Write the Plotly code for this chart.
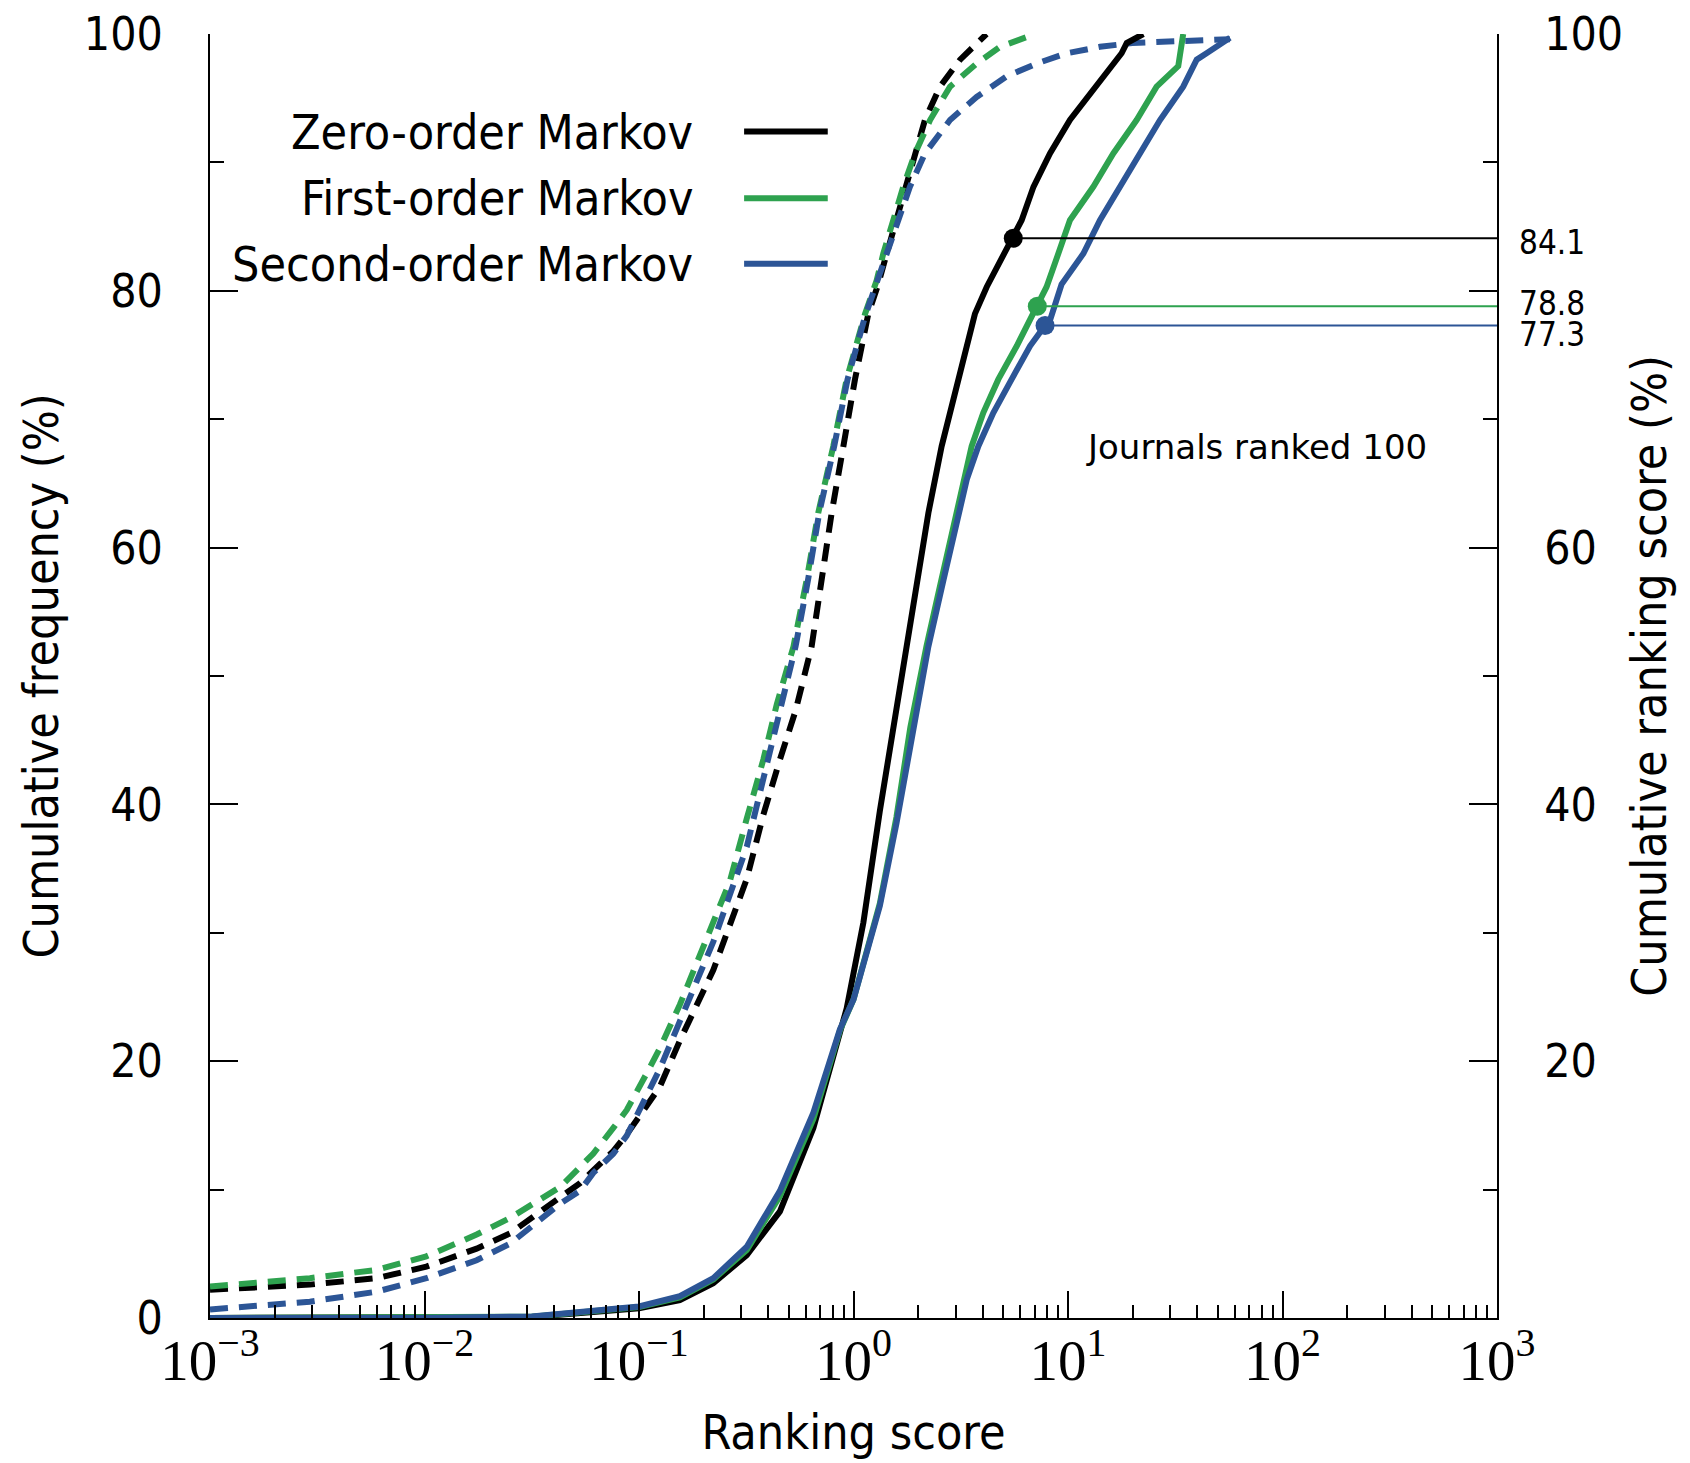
import plotly.graph_objects as go

# ---------------- data ----------------
# Cumulative frequency (%) vs ranking score  (dashed)
freq0_x = [0.001, 0.00292, 0.00598, 0.0102, 0.0175, 0.0251, 0.0429, 0.0531, 0.0612, 0.0759,
           0.0877, 0.109, 0.125, 0.155, 0.222, 0.318, 0.380, 0.454, 0.537, 0.638, 0.711,
           0.791, 0.897, 1.016, 1.172, 1.303, 1.429, 1.589, 1.738, 1.936, 2.153, 2.529,
           3.141, 4.169]
freq0_y = [2.2, 2.6, 3.1, 4.0, 5.4, 6.6, 9.4, 10.5, 11.5, 13.0,
           14.3, 16.6, 18.0, 21.6, 27.1, 34.2, 39.2, 43.5, 47.3, 52.3, 57.5,
           62.7, 67.9, 73.1, 78.2, 80.5, 82.9, 85.5, 88.1, 90.7, 93.3, 95.9,
           98.0, 100.0]

freq1_x = [0.001, 0.00292, 0.00598, 0.0102, 0.0175, 0.0251, 0.0429, 0.0531, 0.0612, 0.0759,
           0.0877, 0.109, 0.125, 0.155, 0.222, 0.265, 0.318, 0.380, 0.439, 0.525, 0.605,
           0.685, 0.805, 0.929, 1.132, 1.282, 1.377, 1.706, 1.936, 2.275, 2.818, 3.750,
           4.819, 7.015]
freq1_y = [2.45, 3.1, 3.75, 4.8, 6.5, 7.8, 10.2, 11.7, 12.8, 14.8,
           16.2, 19.1, 21.0, 24.4, 30.8, 34.0, 38.9, 43.5, 47.8, 52.3, 57.5,
           62.7, 67.9, 73.1, 78.2, 80.8, 82.9, 88.1, 90.7, 93.3, 95.9, 97.7,
           99.0, 100.0]

freq2_x = [0.001, 0.00292, 0.00598, 0.0102, 0.0175, 0.0251, 0.0429, 0.0531, 0.0612, 0.0759,
           0.0877, 0.109, 0.125, 0.155, 0.222, 0.318, 0.454, 0.537, 0.614, 0.692, 0.813,
           0.938, 1.132, 1.282, 1.429, 1.832, 2.153, 2.818, 3.750, 5.176, 7.145, 9.863,
           14.09, 19.95, 34.44, 56.89]
freq2_y = [0.67, 1.27, 2.05, 3.1, 4.5, 5.8, 8.9, 9.9, 11.3, 12.8,
           14.2, 17.3, 19.4, 23.1, 29.3, 36.7, 47.2, 52.3, 57.5, 62.7, 67.9,
           73.1, 78.0, 80.5, 82.9, 88.1, 90.7, 93.3, 95.1, 96.7, 97.7, 98.5,
           99.0, 99.3, 99.4, 99.6]

# Cumulative ranking score (%) vs ranking score  (solid)
rank0_x = [0.001, 0.01, 0.0316, 0.1, 0.155, 0.222, 0.318, 0.454, 0.650, 0.929, 1.112,
           1.327, 1.549, 1.770, 2.004, 2.234, 2.576, 3.083, 3.681, 4.178, 5.559, 6.081,
           6.902, 8.241, 10.21, 13.61, 17.78, 18.79, 22.44]
rank0_y = [0.0, 0.0, 0.08, 0.75, 1.4, 2.7, 4.9, 8.3, 14.8, 24.1, 30.8,
           39.5, 46.2, 52.3, 57.5, 62.7, 67.9, 73.1, 78.2, 80.3, 84.1, 85.5,
           88.1, 90.7, 93.3, 95.9, 98.5, 99.3, 100.0]

rank1_x = [0.001, 0.01, 0.0316, 0.1, 0.155, 0.222, 0.318, 0.454, 0.650, 0.865, 1.0,
           1.327, 1.585, 1.841, 2.188, 2.570, 3.006, 3.251, 3.556, 4.027, 4.732, 5.768,
           7.194, 7.943, 9.016, 10.21, 13.12, 16.26, 20.89, 25.88, 32.66, 34.44]
rank1_y = [0.0, 0.0, 0.1, 0.85, 1.6, 3.0, 5.3, 9.5, 15.5, 22.4, 24.8,
           32.3, 39.0, 46.0, 52.3, 57.5, 62.7, 65.3, 67.9, 70.5, 73.1, 75.7,
           78.8, 80.3, 82.9, 85.5, 88.1, 90.7, 93.3, 95.9, 97.5, 100.0]

rank2_x = [0.001, 0.01, 0.0316, 0.1, 0.155, 0.222, 0.318, 0.454, 0.650, 0.865, 1.0,
           1.327, 1.585, 1.905, 2.234, 2.630, 3.105, 3.373, 3.819, 4.487, 5.458, 6.653,
           7.816, 8.241, 9.333, 11.80, 14.09, 17.46, 21.68, 26.85, 34.44, 39.81, 44.26,
           56.89]
rank2_y = [0.0, 0.0, 0.12, 0.9, 1.7, 3.1, 5.55, 9.9, 16.0, 22.5, 24.8,
           32.1, 38.5, 45.8, 52.3, 57.5, 62.7, 65.3, 67.9, 70.5, 73.1, 75.7,
           77.3, 77.7, 80.5, 82.9, 85.5, 88.1, 90.7, 93.3, 95.9, 98.0, 98.5,
           99.7]

# Journals ranked 100: score and cumulative ranking score
mark_x = [5.559, 7.194, 7.816]
mark_y = [84.1, 78.8, 77.3]
mark_labels = ["84.1", "78.8", "77.3"]

series_names = ["Zero-order Markov", "First-order Markov", "Second-order Markov"]
x_tickvals = [1e-3, 1e-2, 1e-1, 1e0, 1e1, 1e2, 1e3]
x_ticktext = ["10<sup>\u22123</sup>", "10<sup>\u22122</sup>", "10<sup>\u22121</sup>",
              "10<sup>0</sup>", "10<sup>1</sup>", "10<sup>2</sup>", "10<sup>3</sup>"]
y_tickvals = [0, 20, 40, 60, 80, 100]
y2_tickvals = [20, 40, 60, 80, 100]
y2_ticktext = ["20", "40", "60", "", "100"]

# ---------------- styling ----------------
colors = ["#000000", "#2ea24f", "#2c5596"]
SANS = "DejaVu Sans Condensed, DejaVu Sans, sans-serif"
SERIF = "Liberation Serif, DejaVu Serif, serif"
LW = 6

fig = go.Figure()

freq = [(freq0_x, freq0_y), (freq1_x, freq1_y), (freq2_x, freq2_y)]
rank = [(rank0_x, rank0_y), (rank1_x, rank1_y), (rank2_x, rank2_y)]

for i, (fx, fy) in enumerate(freq):
    fig.add_trace(go.Scatter(x=fx, y=fy, mode="lines", yaxis="y",
                             line=dict(color=colors[i], width=LW, dash="18px,11px"),
                             showlegend=False, name=series_names[i] + " frequency"))
for i, (rx, ry) in enumerate(rank):
    fig.add_trace(go.Scatter(x=rx, y=ry, mode="lines", yaxis="y2",
                             line=dict(color=colors[i], width=LW),
                             showlegend=False, name=series_names[i] + " ranking score"))

# reference lines to the right axis and markers
for i in range(3):
    fig.add_trace(go.Scatter(x=[mark_x[i], 1000], y=[mark_y[i], mark_y[i]], mode="lines",
                             yaxis="y2", line=dict(color=colors[i], width=2),
                             showlegend=False, hoverinfo="skip"))
    fig.add_trace(go.Scatter(x=[mark_x[i]], y=[mark_y[i]], mode="markers", yaxis="y2",
                             marker=dict(color=colors[i], size=19),
                             showlegend=False, cliponaxis=False))

annotations = []
shifts = [-4, 3, -9]
for i in range(3):
    annotations.append(dict(x=1.0155, xref="paper", y=mark_y[i], yref="y2",
                            text=mark_labels[i], showarrow=False, xanchor="left",
                            yanchor="middle", yshift=shifts[i],
                            font=dict(family=SANS, size=33, color="black")))
annotations.append(dict(x=0.813, xref="paper", y=0.678, yref="paper",
                        text="Journals ranked 100", showarrow=False,
                        xanchor="center", yanchor="middle",
                        font=dict(family="DejaVu Sans", size=34, color="black")))

# legend (text right-aligned, line sample on the right)
leg_y = [0.924, 0.872, 0.821]
shapes = []
for i in range(3):
    annotations.append(dict(x=0.377, xref="paper", y=leg_y[i], yref="paper",
                            text=series_names[i], showarrow=False, xanchor="right",
                            yanchor="middle",
                            font=dict(family=SANS, size=48, color="black")))
    shapes.append(dict(type="line", xref="paper", yref="paper",
                       x0=0.415, x1=0.480, y0=leg_y[i], y1=leg_y[i],
                       line=dict(color=colors[i], width=LW)))

minor_x = [k * 10.0 ** n for n in range(-3, 3) for k in range(2, 10)]

fig.update_layout(
    width=1682, height=1455,
    margin=dict(l=202, r=193, t=26, b=145),
    paper_bgcolor="white", plot_bgcolor="white",
    showlegend=False,
    annotations=annotations, shapes=shapes,
    xaxis=dict(type="log", range=[-3, 3], tickvals=x_tickvals, ticktext=x_ticktext,
               automargin=False, ticklabeloverflow="allow",
               ticks="inside", ticklen=27, tickwidth=2, tickcolor="black",
               showline=True, linecolor="black", linewidth=2, mirror=False,
               showgrid=False, zeroline=False,
               tickfont=dict(family=SERIF, size=57, color="black"),
               ticklabelstandoff=-8,
               minor=dict(tickvals=minor_x, ticks="inside", ticklen=13,
                          tickwidth=2, tickcolor="black", showgrid=False),
               title=dict(text="Ranking score", standoff=24,
                          font=dict(family=SANS, size=48, color="black"))),
    yaxis=dict(range=[0, 100], tickvals=y_tickvals, automargin=False,
               ticklabeloverflow="allow",
               ticks="inside", ticklen=28, tickwidth=2, tickcolor="black",
               showline=True, linecolor="black", linewidth=2,
               showgrid=False, zeroline=False,
               tickfont=dict(family=SANS, size=46, color="black"),
               ticklabelstandoff=36,
               minor=dict(tickvals=[10, 30, 50, 70, 90], ticks="inside", ticklen=14,
                          tickwidth=2, tickcolor="black", showgrid=False),
               title=dict(text="Cumulative frequency (%)", standoff=10,
                          font=dict(family=SANS, size=48, color="black"))),
    yaxis2=dict(range=[0, 100], overlaying="y", side="right", automargin=False,
                ticklabeloverflow="allow",
                tickvals=y2_tickvals, ticktext=y2_ticktext,
                ticks="inside", ticklen=28, tickwidth=2, tickcolor="black",
                showline=True, linecolor="black", linewidth=2,
                showgrid=False, zeroline=False,
                tickfont=dict(family=SANS, size=46, color="black"),
                ticklabelstandoff=36,
                minor=dict(tickvals=[10, 30, 50, 70, 90], ticks="inside", ticklen=14,
                           tickwidth=2, tickcolor="black", showgrid=False),
                title=dict(text="Cumulative ranking score (%)", standoff=10,
                           font=dict(family=SANS, size=48, color="black"))),
)

fig.write_html("out.html")
